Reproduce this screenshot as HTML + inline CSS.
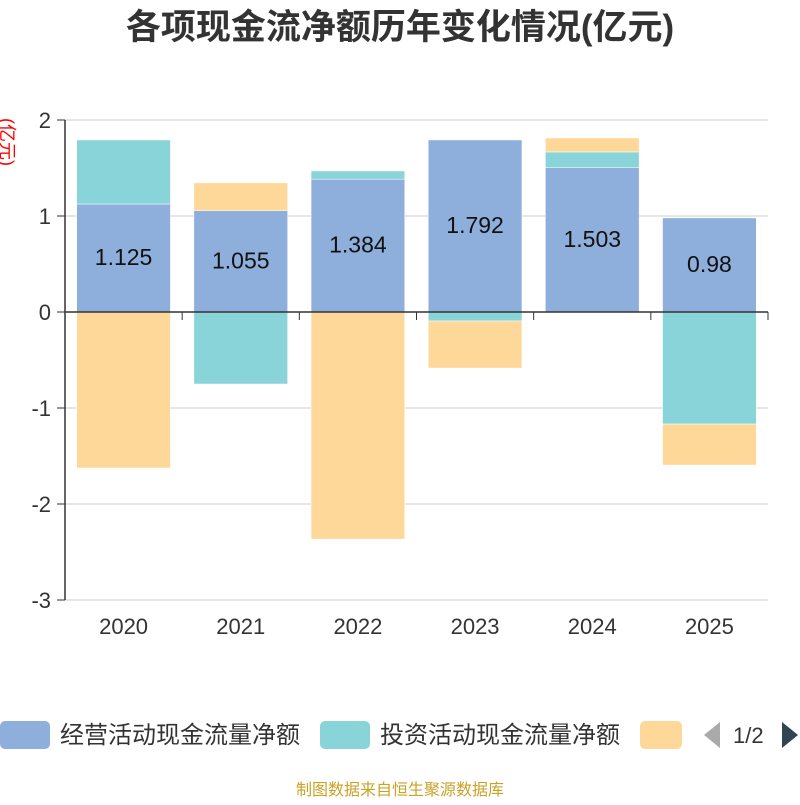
<!DOCTYPE html>
<html><head><meta charset="utf-8"><style>body{margin:0;background:#fff;font-family:"Liberation Sans","Noto Sans CJK SC",sans-serif}</style></head>
<body>
<svg id="c" width="800" height="800" xmlns="http://www.w3.org/2000/svg" font-family="Liberation Sans, Noto Sans CJK SC, sans-serif">
<text x="400" y="39" text-anchor="middle" font-size="35" font-weight="bold" fill="#333">各项现金流净额历年变化情况(亿元)</text>
<text transform="translate(1,142) rotate(90)" text-anchor="middle" font-size="18" fill="#f00">(亿元)</text>
<g id="grid"></g><g id="bars"></g><g id="axes"></g>
<g>
<g><rect x="0" y="721" width="50" height="28" rx="5" fill="#8eaedb"/><text x="60" y="743" font-size="24" fill="#333">经营活动现金流量净额</text></g>
<g><rect x="320" y="721" width="50" height="28" rx="5" fill="#88d4d8"/><text x="380" y="743" font-size="24" fill="#333">投资活动现金流量净额</text></g>
<g><rect x="640" y="721" width="42" height="28" rx="5" fill="#fed898"/></g>
<path d="M720 722 L704 735 L720 748Z" fill="#aaa"/>
<text x="733" y="743" font-size="22" fill="#333">1/2</text>
<path d="M782 722 L798 735 L782 748Z" fill="#2f4554"/>
</g>
<text x="400" y="795" text-anchor="middle" font-size="16" fill="#c9a227">制图数据来自恒生聚源数据库</text>
</svg>
<script>
const years=["2020","2021","2022","2023","2024","2025"];
const operating=[1.125,1.055,1.384,1.792,1.503,0.98];
const investing=[0.667,-0.75,0.085,-0.094,0.164,-1.167];
const financing=[-1.625,0.29,-2.365,-0.49,0.146,-0.427];
const opLabels=["1.125","1.055","1.384","1.792","1.503","0.98"];
const yTicks=[2,1,0,-1,-2,-3];
const NS="http://www.w3.org/2000/svg";
const x0=65,x1=768,yTop=120,yBot=600,vMax=2,vMin=-3;
const y=v=>yTop+(vMax-v)/(vMax-vMin)*(yBot-yTop);
const band=(x1-x0)/years.length;
const bx=i=>x0+band*i+band*0.1, bw=band*0.8;
function mk(t,a,p){const e=document.createElementNS(NS,t);for(const k in a)e.setAttribute(k,a[k]);document.getElementById(p).appendChild(e);return e;}
yTicks.forEach(t=>{
 const l=mk('line',{x1:x0,x2:x1,y1:y(t),y2:y(t),stroke:'#ccc'},'grid');
 
 
 const tk=mk('line',{x1:x0-8,x2:x0,y1:y(t),y2:y(t),stroke:'#333'},'axes');
 
 
 const tx=mk('text',{x:x0-14,y:y(t)+8,'text-anchor':'end','font-size':22,fill:'#333'},'axes');tx.textContent=t;
 
 
});
const ya=mk('line',{x1:x0,x2:x0,y1:yTop,y2:yBot,stroke:'#333','stroke-width':1.5},'axes');


const xa=mk('line',{x1:x0,x2:x1,y1:y(0),y2:y(0),stroke:'#333','stroke-width':1.5},'axes');


for(let i=0;i<=years.length;i++){const t=mk('line',{x1:x0+band*i,x2:x0+band*i,y1:y(0),y2:y(0)+8,stroke:'#333'},'axes');
 
 }
years.forEach((yr,i)=>{
 const tx=mk('text',{x:x0+band*(i+0.5),y:634,'text-anchor':'middle','font-size':22,fill:'#333'},'axes');tx.textContent=yr;
 
 
 let pos=0,neg=0;
 [[operating,'#8eaedb','operating'],[investing,'#88d4d8','investing'],[financing,'#fed898','financing']].forEach(([arr,col,nm])=>{
  const v=arr[i];let a,b;
  if(v>=0){a=pos;b=pos+v;pos=b;}else{a=neg;b=neg+v;neg=b;}
  const r=mk('rect',{x:bx(i),width:bw,y:Math.min(y(a),y(b)),height:Math.abs(y(a)-y(b)),fill:col,stroke:'#fff','stroke-width':0.5},'bars');
  
  
 });
 const lb=mk('text',{x:bx(i)+bw/2,y:(y(0)+y(operating[i]))/2+7,'text-anchor':'middle','font-size':23,fill:'#111'},'bars');lb.textContent=opLabels[i];
 
 
});
</script>
</body></html>
